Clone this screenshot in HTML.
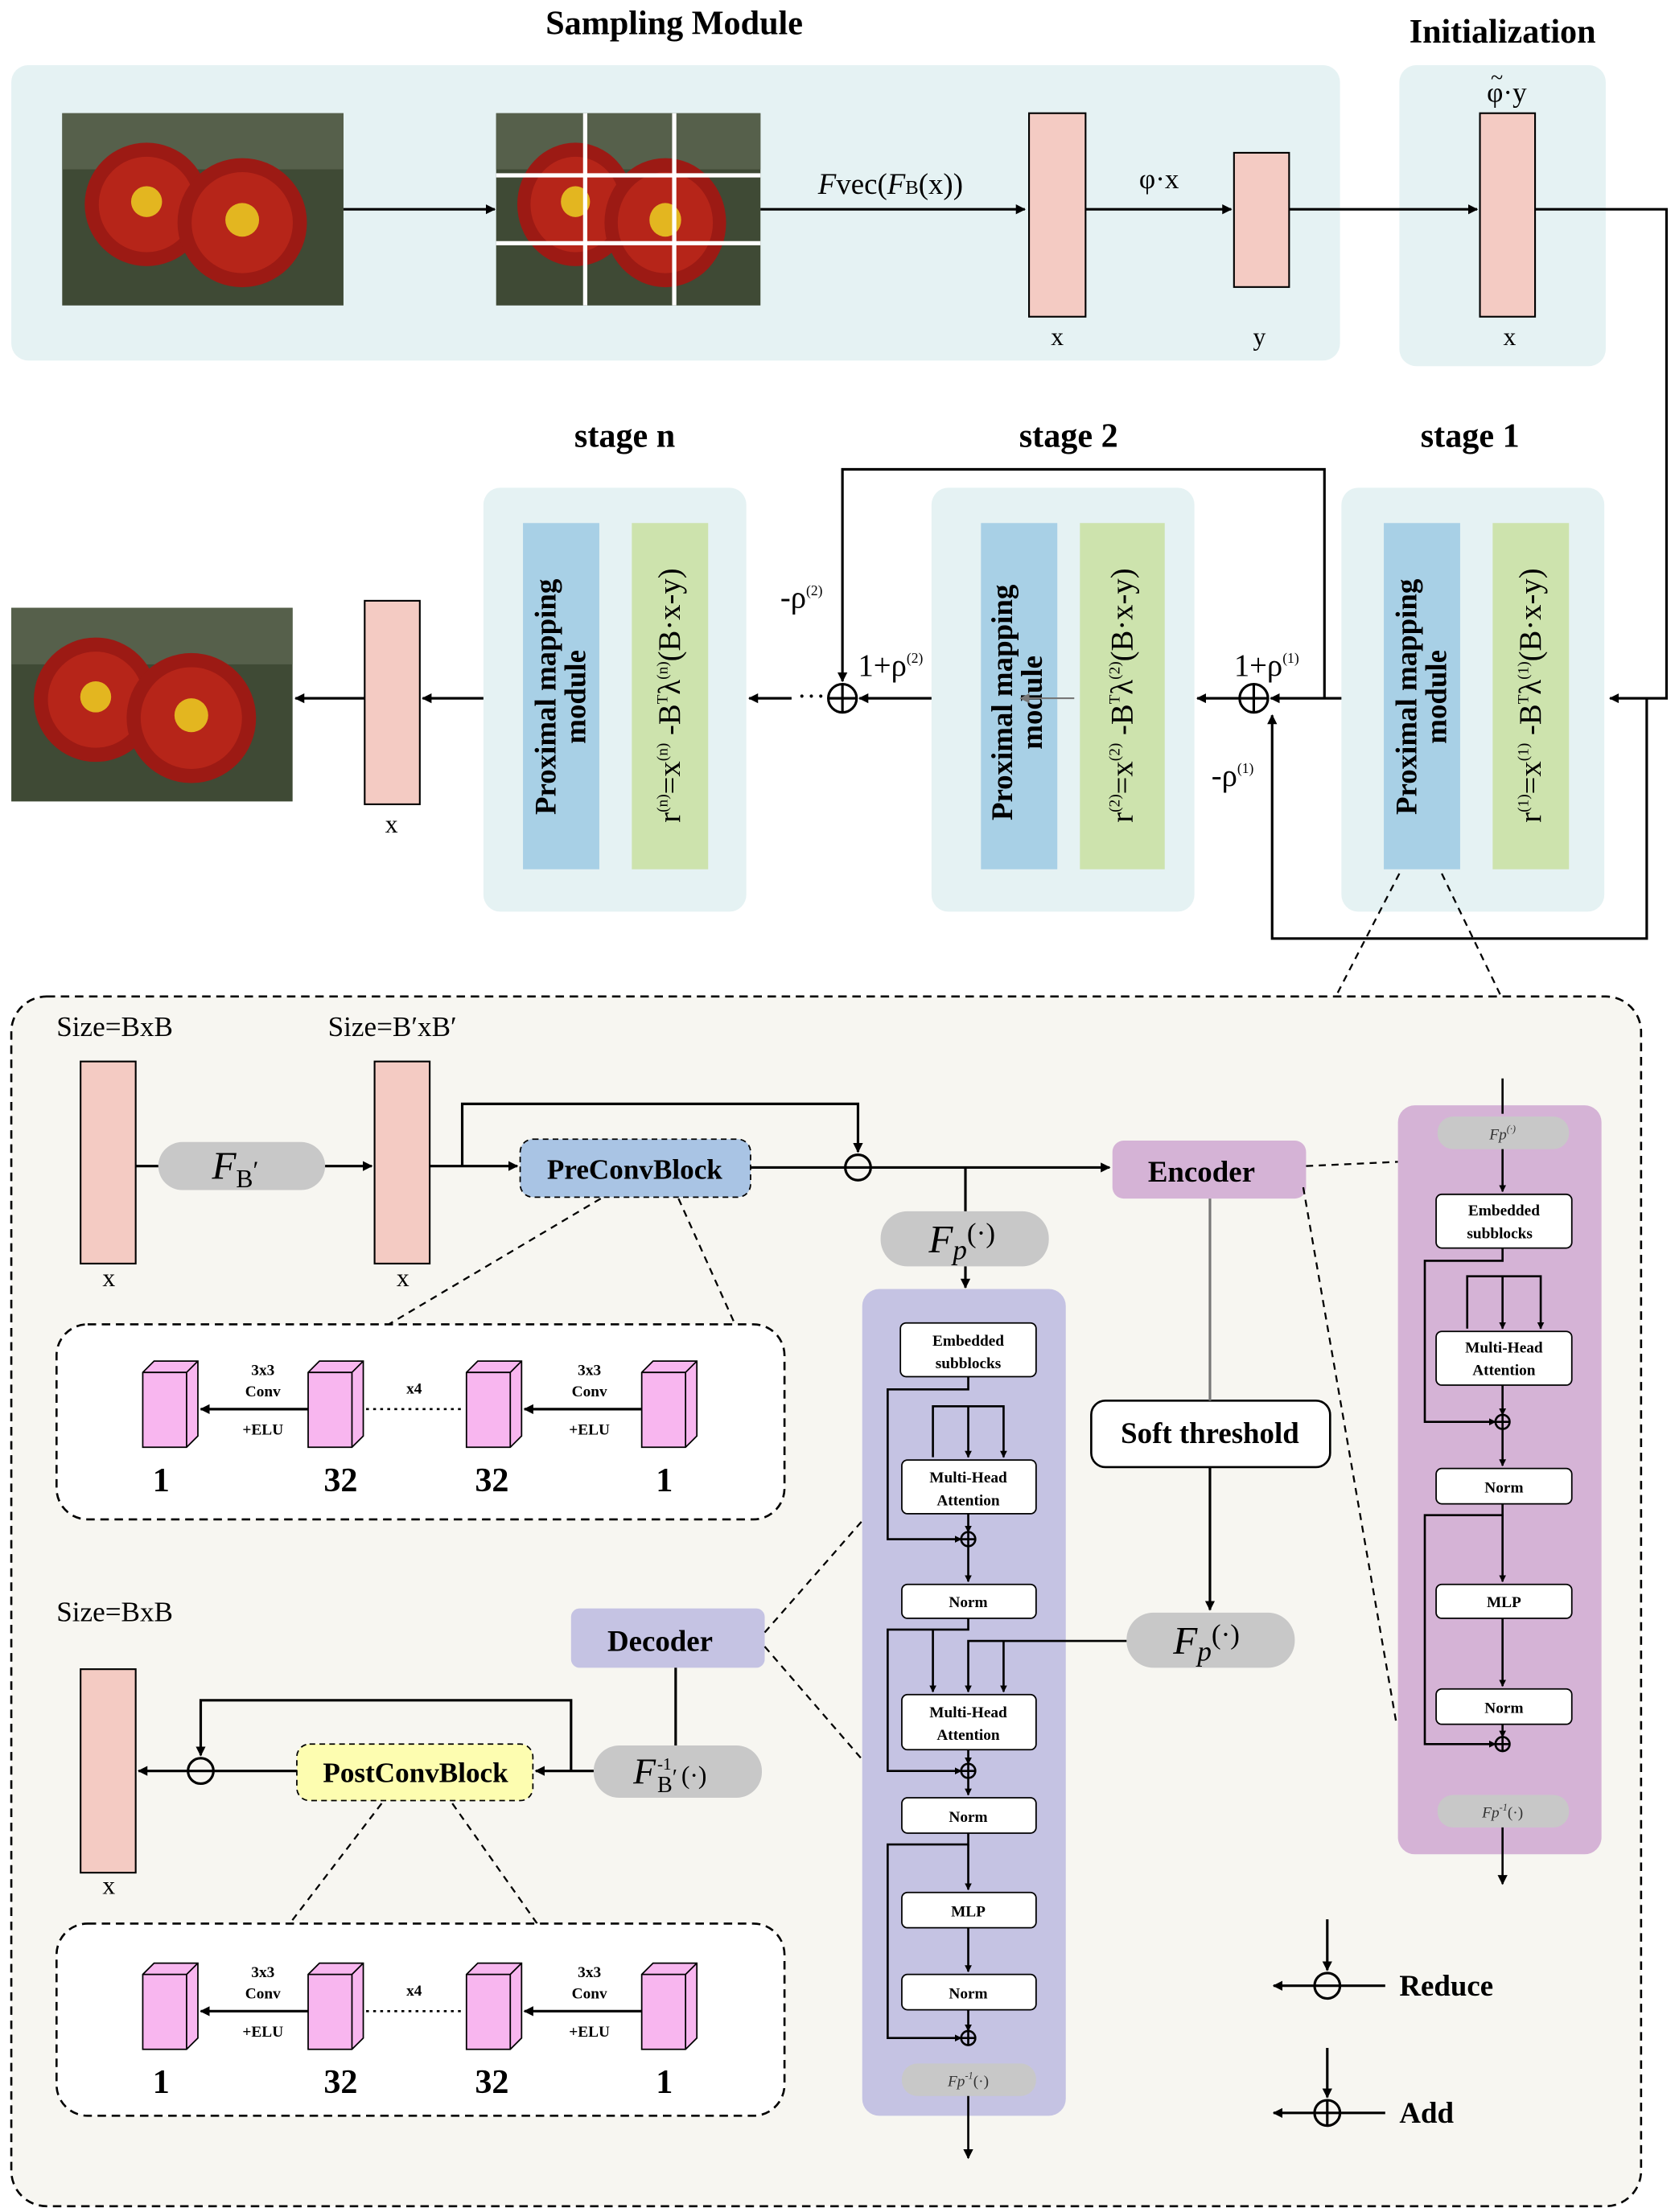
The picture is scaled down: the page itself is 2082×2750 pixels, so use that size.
<!DOCTYPE html>
<html><head><meta charset="utf-8"><style>
html,body{margin:0;padding:0;background:#fff}
svg{display:block}
text{font-family:"Liberation Serif",serif}
</style></head><body>
<svg width="2082" height="2750" viewBox="0 0 1185 1565" xmlns="http://www.w3.org/2000/svg">
<defs>
<marker id="a" viewBox="0 0 10 10" refX="9" refY="5" markerWidth="7" markerHeight="7" orient="auto-start-reverse" markerUnits="userSpaceOnUse"><path d="M0,0 L10,5 L0,10 z" fill="#000"/></marker>
<marker id="s" viewBox="0 0 10 10" refX="9" refY="5" markerWidth="5" markerHeight="5" orient="auto" markerUnits="userSpaceOnUse"><path d="M0,0 L10,5 L0,10 z" fill="#000"/></marker>
<marker id="g" viewBox="0 0 10 10" refX="9" refY="5" markerWidth="7" markerHeight="7" orient="auto" markerUnits="userSpaceOnUse"><path d="M0,0 L10,5 L0,10 z" fill="#777"/></marker>
<g id="flower">
<rect width="200" height="137" fill="#3f4a35"/>
<rect x="0" y="0" width="200" height="40" fill="#56604b"/>
<circle cx="60" cy="65" r="44" fill="#9c1a14"/><circle cx="60" cy="65" r="34" fill="#b62519"/><circle cx="60" cy="63" r="11" fill="#e3b620"/>
<circle cx="128" cy="78" r="46" fill="#9c1a14"/><circle cx="128" cy="78" r="36" fill="#b62519"/><circle cx="128" cy="76" r="12" fill="#e3b620"/>
</g>
<g id="cube"><path d="M0,8 L8,0 L39,0 L39,53 L31,61 L0,61 z" fill="#f8b6ef" stroke="#000" stroke-width="1"/><path d="M0,8 L31,8 L31,61 M31,8 L39,0" fill="none" stroke="#000" stroke-width="1"/></g>
</defs>

<text x="477" y="24" font-size="24" font-weight="bold" text-anchor="middle">Sampling Module</text>
<text x="1063" y="30" font-size="24" font-weight="bold" text-anchor="middle">Initialization</text>
<rect x="8" y="46" width="940" height="209" rx="12" fill="#e5f2f3"/>
<rect x="990" y="46" width="146" height="213" rx="12" fill="#e5f2f3"/>
<use href="#flower" transform="translate(44,80) scale(0.995,0.993)"/>
<use href="#flower" transform="translate(351,80) scale(0.935,0.993)"/>
<g stroke="#fff" stroke-width="3"><line x1="414" y1="80" x2="414" y2="216"/><line x1="477" y1="80" x2="477" y2="216"/><line x1="351" y1="124" x2="538" y2="124"/><line x1="351" y1="172" x2="538" y2="172"/></g>
<g stroke="#000" stroke-width="1.8" fill="none" marker-end="url(#a)">
<line x1="243" y1="148" x2="350" y2="148"/><line x1="538" y1="148" x2="725" y2="148"/>
<line x1="768" y1="148" x2="871" y2="148"/><line x1="912" y1="148" x2="1045" y2="148"/>
<polyline points="1086,148 1179,148 1179,494 1139,494"/>
</g>
<text x="630" y="137" font-size="21" text-anchor="middle"><tspan font-style="italic">F</tspan>vec(<tspan font-style="italic">F</tspan><tspan font-size="14">B</tspan>(x))</text>
<text x="820" y="133" font-size="20" text-anchor="middle">φ·x</text>
<g fill="#f4cbc3" stroke="#000" stroke-width="1.2">
<rect x="728" y="80" width="40" height="144"/><rect x="873" y="108" width="39" height="95"/><rect x="1047" y="80" width="39" height="144"/>
<rect x="258" y="425" width="39" height="144"/>
</g>
<g font-size="18" text-anchor="middle"><text x="748" y="244">x</text><text x="891" y="244">y</text><text x="1068" y="244">x</text><text x="277" y="589">x</text></g>
<text x="1066" y="72" font-size="20" text-anchor="middle">φ·y</text><text x="1059" y="60" font-size="16" text-anchor="middle">~</text>

<g font-size="24" font-weight="bold" text-anchor="middle"><text x="442" y="316">stage n</text><text x="756" y="316">stage 2</text><text x="1040" y="316">stage 1</text></g>
<g fill="#e5f2f3"><rect x="342" y="345" width="186" height="300" rx="12"/><rect x="659" y="345" width="186" height="300" rx="12"/><rect x="949" y="345" width="186" height="300" rx="12"/></g>
<g fill="#a8d0e6"><rect x="370" y="370" width="54" height="245"/><rect x="694" y="370" width="54" height="245"/><rect x="979" y="370" width="54" height="245"/></g>
<g fill="#cde3ad"><rect x="447" y="370" width="54" height="245"/><rect x="764" y="370" width="60" height="245"/><rect x="1056" y="370" width="54" height="245"/></g>
<g font-size="21" font-weight="bold" text-anchor="middle">
<text transform="translate(393,493) rotate(-90)">Proximal mapping</text><text transform="translate(414,493) rotate(-90)">module</text>
<text transform="translate(716,497) rotate(-90)">Proximal mapping</text><text transform="translate(737,497) rotate(-90)">module</text>
<text transform="translate(1002,493) rotate(-90)">Proximal mapping</text><text transform="translate(1023,493) rotate(-90)">module</text>
</g>
<g font-size="22" text-anchor="middle">
<text transform="translate(481,492) rotate(-90)">r<tspan font-size="11" dy="-9">(n)</tspan><tspan dy="9">=x</tspan><tspan font-size="11" dy="-9">(n)</tspan><tspan dy="9"> -B</tspan><tspan font-size="11" dy="-9">T</tspan><tspan dy="9">λ</tspan><tspan font-size="11" dy="-9">(n)</tspan><tspan dy="9">(B·x-y)</tspan></text>
<text transform="translate(801,492) rotate(-90)">r<tspan font-size="11" dy="-9">(2)</tspan><tspan dy="9">=x</tspan><tspan font-size="11" dy="-9">(2)</tspan><tspan dy="9"> -B</tspan><tspan font-size="11" dy="-9">T</tspan><tspan dy="9">λ</tspan><tspan font-size="11" dy="-9">(2)</tspan><tspan dy="9">(B·x-y)</tspan></text>
<text transform="translate(1090,492) rotate(-90)">r<tspan font-size="11" dy="-9">(1)</tspan><tspan dy="9">=x</tspan><tspan font-size="11" dy="-9">(1)</tspan><tspan dy="9"> -B</tspan><tspan font-size="11" dy="-9">T</tspan><tspan dy="9">λ</tspan><tspan font-size="11" dy="-9">(1)</tspan><tspan dy="9">(B·x-y)</tspan></text>
</g>
<line x1="760" y1="494" x2="722" y2="494" stroke="#777" stroke-width="1.2" marker-end="url(#g)"/>
<g stroke="#000" stroke-width="1.8" fill="none">
<line x1="949" y1="494" x2="899" y2="494" marker-end="url(#a)"/>
<line x1="877" y1="494" x2="847" y2="494" marker-end="url(#a)"/>
<polyline points="937,494 937,332 596,332 596,482" marker-end="url(#a)"/>
<polyline points="1165,494 1165,664 900,664 900,506" marker-end="url(#a)"/>
<line x1="659" y1="494" x2="608" y2="494" marker-end="url(#a)"/>
<line x1="560" y1="494" x2="530" y2="494" marker-end="url(#a)"/>
<line x1="342" y1="494" x2="299" y2="494" marker-end="url(#a)"/>
<line x1="258" y1="494" x2="209" y2="494" marker-end="url(#a)"/>
<circle cx="887" cy="494" r="10"/><line x1="877" y1="494" x2="897" y2="494"/><line x1="887" y1="484" x2="887" y2="504"/>
<circle cx="596" cy="494" r="10"/><line x1="586" y1="494" x2="606" y2="494"/><line x1="596" y1="484" x2="596" y2="504"/>
</g>
<text x="564" y="499" font-size="20">···</text>
<g font-size="22"><text x="873" y="478">1+ρ<tspan font-size="10" dy="-9">(1)</tspan></text><text x="857" y="556">-ρ<tspan font-size="10" dy="-9">(1)</tspan></text>
<text x="607" y="478">1+ρ<tspan font-size="10" dy="-9">(2)</tspan></text><text x="552" y="430">-ρ<tspan font-size="10" dy="-9">(2)</tspan></text></g>
<use href="#flower" transform="translate(8,430) scale(0.995,1)"/>
<g stroke="#000" stroke-width="1.3" stroke-dasharray="5,4"><line x1="990" y1="618" x2="945" y2="705"/><line x1="1020" y1="618" x2="1062" y2="705"/></g>

<rect x="8" y="705" width="1153" height="856" rx="25" fill="#f7f6f1" stroke="#000" stroke-width="1.5" stroke-dasharray="6,4"/>
<g fill="#f4cbc3" stroke="#000" stroke-width="1.2">
<rect x="57" y="751" width="39" height="143"/><rect x="265" y="751" width="39" height="143"/><rect x="57" y="1181" width="39" height="144"/>
</g>
<g font-size="18" text-anchor="middle"><text x="77" y="910">x</text><text x="285" y="910">x</text><text x="77" y="1340">x</text></g>
<g font-size="20"><text x="40" y="733">Size=BxB</text><text x="232" y="733">Size=B′xB′</text><text x="40" y="1147">Size=BxB</text></g>
<g fill="#c8c8c8"><rect x="112" y="808" width="118" height="34" rx="17"/><rect x="623" y="857" width="119" height="39" rx="19"/><rect x="797" y="1141" width="119" height="39" rx="19"/><rect x="420" y="1235" width="119" height="37" rx="18"/></g>
<text x="150" y="834" font-size="28" font-style="italic">F</text><text x="167" y="840" font-size="18">B<tspan dy="-6">′</tspan></text>
<text x="657" y="886" font-size="28" font-style="italic">F<tspan font-size="20" dy="5">p</tspan><tspan font-style="normal" font-size="20" dy="-12">(·)</tspan></text>
<text x="830" y="1170" font-size="28" font-style="italic">F<tspan font-size="20" dy="5">p</tspan><tspan font-style="normal" font-size="20" dy="-12">(·)</tspan></text>
<text x="448" y="1262" font-size="26" font-style="italic">F</text><text x="465" y="1268" font-size="16">B<tspan dy="-5">′</tspan></text><text x="465" y="1252" font-size="12">-1</text><text x="482" y="1262" font-size="18">(·)</text>

<rect x="368" y="806" width="163" height="41" rx="9" fill="#a9c4e4" stroke="#000" stroke-dasharray="4,3"/>
<text x="449" y="834" font-size="20" font-weight="bold" text-anchor="middle">PreConvBlock</text>
<rect x="787" y="807" width="137" height="41" rx="8" fill="#d5b3d6"/>
<text x="850" y="836" font-size="21" font-weight="bold" text-anchor="middle">Encoder</text>
<rect x="404" y="1138" width="137" height="42" rx="6" fill="#c5c3e3"/>
<text x="467" y="1168" font-size="21" font-weight="bold" text-anchor="middle">Decoder</text>
<rect x="772" y="991" width="169" height="47" rx="10" fill="#fff" stroke="#000" stroke-width="1.5"/>
<text x="856" y="1021" font-size="21" font-weight="bold" text-anchor="middle">Soft threshold</text>
<rect x="210" y="1234" width="167" height="40" rx="9" fill="#fdfdb0" stroke="#000" stroke-dasharray="4,3"/>
<text x="294" y="1261" font-size="20" font-weight="bold" text-anchor="middle">PostConvBlock</text>

<g stroke="#000" stroke-width="1.8" fill="none">
<line x1="96" y1="825" x2="112" y2="825"/><line x1="230" y1="825" x2="263" y2="825" marker-end="url(#a)"/>
<line x1="304" y1="825" x2="366" y2="825" marker-end="url(#a)"/>
<polyline points="327,825 327,781 607,781 607,815" marker-end="url(#a)"/>
<line x1="531" y1="826" x2="598" y2="826"/><line x1="616" y1="826" x2="785" y2="826" marker-end="url(#a)"/>
<line x1="683" y1="826" x2="683" y2="857"/><line x1="683" y1="896" x2="683" y2="911" marker-end="url(#a)"/>
<circle cx="607" cy="826" r="9"/><line x1="598" y1="826" x2="616" y2="826"/>
<line x1="856" y1="1038" x2="856" y2="1139" marker-end="url(#a)"/>
<line x1="478" y1="1180" x2="478" y2="1235"/>
<line x1="420" y1="1253" x2="379" y2="1253" marker-end="url(#a)"/>
<polyline points="404,1253 404,1203 142,1203 142,1242" marker-end="url(#a)"/>
<line x1="210" y1="1253" x2="151" y2="1253"/><line x1="133" y1="1253" x2="98" y2="1253" marker-end="url(#a)"/>
<circle cx="142" cy="1253" r="9"/><line x1="133" y1="1253" x2="151" y2="1253"/>
</g>
<line x1="856" y1="848" x2="856" y2="991" stroke="#777" stroke-width="1.8"/>
<g stroke="#000" stroke-width="1.3" stroke-dasharray="5,4" fill="none">
<line x1="425" y1="848" x2="275" y2="937"/><line x1="480" y1="848" x2="520" y2="937"/>
<line x1="270" y1="1276" x2="205" y2="1361"/><line x1="320" y1="1276" x2="380" y2="1361"/>
<line x1="541" y1="1155" x2="610" y2="1076"/><line x1="541" y1="1165" x2="610" y2="1245"/>
<line x1="924" y1="825" x2="989" y2="822"/><line x1="922" y1="840" x2="988" y2="1220"/>
</g>

<rect x="40" y="937" width="515" height="138" rx="22" fill="#fff" stroke="#000" stroke-width="1.5" stroke-dasharray="6,4"/>
<rect x="40" y="1361" width="515" height="136" rx="22" fill="#fff" stroke="#000" stroke-width="1.5" stroke-dasharray="6,4"/>
<g id="convrow">
<use href="#cube" x="101" y="963"/><use href="#cube" x="218" y="963"/><use href="#cube" x="330" y="963"/><use href="#cube" x="454" y="963"/>
<g stroke="#000" stroke-width="1.8"><line x1="218" y1="997" x2="142" y2="997" marker-end="url(#a)"/><line x1="454" y1="997" x2="371" y2="997" marker-end="url(#a)"/></g>
<line x1="259" y1="997" x2="328" y2="997" stroke="#000" stroke-width="1.5" stroke-dasharray="2,3"/>
<g font-size="11" font-weight="bold" text-anchor="middle"><text x="186" y="973">3x3</text><text x="186" y="988">Conv</text><text x="186" y="1015">+ELU</text>
<text x="417" y="973">3x3</text><text x="417" y="988">Conv</text><text x="417" y="1015">+ELU</text><text x="293" y="986">x4</text></g>
<g font-size="24" font-weight="bold" text-anchor="middle"><text x="114" y="1055">1</text><text x="241" y="1055">32</text><text x="348" y="1055">32</text><text x="470" y="1055">1</text></g>
</g>
<use href="#convrow" y="426"/>

<rect x="610" y="912" width="144" height="585" rx="12" fill="#c5c3e3"/>
<rect x="989" y="782" width="144" height="530" rx="12" fill="#d5b3d6"/>
<g fill="#c8c8c8"><rect x="638" y="1460" width="95" height="23" rx="11"/><rect x="1017" y="790" width="93" height="23" rx="11"/><rect x="1017" y="1270" width="93" height="23" rx="11"/></g>
<g font-size="11" font-style="italic" fill="#333" text-anchor="middle"><text x="685" y="1476">Fp<tspan font-size="7" dy="-5">-1</tspan><tspan font-style="normal" dy="5">(·)</tspan></text><text x="1063" y="806">Fp<tspan font-size="7" dy="-5">(·)</tspan></text><text x="1063" y="1286">Fp<tspan font-size="7" dy="-5">-1</tspan><tspan font-style="normal" dy="5">(·)</tspan></text></g>

<g fill="#fff" stroke="#000" stroke-width="1">
<rect x="637" y="936" width="96" height="38" rx="4"/><rect x="638" y="1033" width="95" height="38" rx="4"/><rect x="638" y="1121" width="95" height="24" rx="4"/>
<rect x="638" y="1199" width="95" height="39" rx="4"/><rect x="638" y="1272" width="95" height="25" rx="4"/><rect x="638" y="1339" width="95" height="25" rx="4"/><rect x="638" y="1397" width="95" height="25" rx="4"/>
</g>
<g font-size="11" font-weight="bold" text-anchor="middle">
<text x="685" y="952">Embedded</text><text x="685" y="968">subblocks</text>
<text x="685" y="1049">Multi-Head</text><text x="685" y="1065">Attention</text>
<text x="685" y="1137">Norm</text>
<text x="685" y="1215">Multi-Head</text><text x="685" y="1231">Attention</text>
<text x="685" y="1289">Norm</text><text x="685" y="1356">MLP</text><text x="685" y="1414">Norm</text>
</g>
<g stroke="#000" stroke-width="1.5" fill="none">
<polyline points="685,974 685,983 628,983 628,1089 680,1089" marker-end="url(#s)"/>
<polyline points="660,1031 660,995 710,995 710,1031" marker-end="url(#s)"/><line x1="685" y1="995" x2="685" y2="1031" marker-end="url(#s)"/>
<line x1="685" y1="1071" x2="685" y2="1084" marker-end="url(#s)"/><line x1="685" y1="1094" x2="685" y2="1119" marker-end="url(#s)"/>
<polyline points="685,1145 685,1153 628,1153 628,1253 680,1253" marker-end="url(#s)"/>
<polyline points="660,1153 660,1197" marker-end="url(#s)"/>
<polyline points="797,1161 685,1161 685,1197" marker-end="url(#s)"/><polyline points="710,1161 710,1197" marker-end="url(#s)"/>
<line x1="685" y1="1238" x2="685" y2="1248" marker-end="url(#s)"/><line x1="685" y1="1258" x2="685" y2="1270" marker-end="url(#s)"/>
<polyline points="685,1297 685,1305 628,1305 628,1442 680,1442" marker-end="url(#s)"/>
<line x1="685" y1="1305" x2="685" y2="1337" marker-end="url(#s)"/><line x1="685" y1="1364" x2="685" y2="1395" marker-end="url(#s)"/>
<line x1="685" y1="1422" x2="685" y2="1437" marker-end="url(#s)"/>
<line x1="685" y1="1483" x2="685" y2="1527" marker-end="url(#a)"/>
<circle cx="685" cy="1089" r="5"/><line x1="680" y1="1089" x2="690" y2="1089"/><line x1="685" y1="1084" x2="685" y2="1094"/>
<circle cx="685" cy="1253" r="5"/><line x1="680" y1="1253" x2="690" y2="1253"/><line x1="685" y1="1248" x2="685" y2="1258"/>
<circle cx="685" cy="1442" r="5"/><line x1="680" y1="1442" x2="690" y2="1442"/><line x1="685" y1="1437" x2="685" y2="1447"/>
</g>

<g fill="#fff" stroke="#000" stroke-width="1">
<rect x="1016" y="845" width="96" height="38" rx="4"/><rect x="1016" y="942" width="96" height="38" rx="4"/><rect x="1016" y="1039" width="96" height="25" rx="4"/>
<rect x="1016" y="1121" width="96" height="24" rx="4"/><rect x="1016" y="1195" width="96" height="25" rx="4"/>
</g>
<g font-size="11" font-weight="bold" text-anchor="middle">
<text x="1064" y="860">Embedded</text><text x="1061" y="876">subblocks</text>
<text x="1064" y="957">Multi-Head</text><text x="1064" y="973">Attention</text>
<text x="1064" y="1056">Norm</text><text x="1064" y="1137">MLP</text><text x="1064" y="1212">Norm</text>
</g>
<g stroke="#000" stroke-width="1.5" fill="none">
<line x1="1063" y1="763" x2="1063" y2="788"/>
<line x1="1063" y1="813" x2="1063" y2="843" marker-end="url(#s)"/>
<polyline points="1063,883 1063,892 1008,892 1008,1006 1058,1006" marker-end="url(#s)"/>
<polyline points="1038,940 1038,903 1090,903 1090,940" marker-end="url(#s)"/><line x1="1063" y1="903" x2="1063" y2="940" marker-end="url(#s)"/>
<line x1="1063" y1="980" x2="1063" y2="1001" marker-end="url(#s)"/><line x1="1063" y1="1011" x2="1063" y2="1037" marker-end="url(#s)"/>
<polyline points="1063,1064 1063,1072 1008,1072 1008,1234 1058,1234" marker-end="url(#s)"/>
<line x1="1063" y1="1072" x2="1063" y2="1119" marker-end="url(#s)"/><line x1="1063" y1="1145" x2="1063" y2="1193" marker-end="url(#s)"/>
<line x1="1063" y1="1220" x2="1063" y2="1229" marker-end="url(#s)"/>
<line x1="1063" y1="1293" x2="1063" y2="1333" marker-end="url(#a)"/>
<circle cx="1063" cy="1006" r="5"/><line x1="1058" y1="1006" x2="1068" y2="1006"/><line x1="1063" y1="1001" x2="1063" y2="1011"/>
<circle cx="1063" cy="1234" r="5"/><line x1="1058" y1="1234" x2="1068" y2="1234"/><line x1="1063" y1="1229" x2="1063" y2="1239"/>
</g>

<g stroke="#000" stroke-width="1.8" fill="none">
<line x1="939" y1="1358" x2="939" y2="1394" marker-end="url(#a)"/>
<line x1="980" y1="1405" x2="901" y2="1405" marker-end="url(#a)"/>
<circle cx="939" cy="1405" r="9" fill="#f7f6f1"/><line x1="930" y1="1405" x2="948" y2="1405"/>
<line x1="939" y1="1449" x2="939" y2="1484" marker-end="url(#a)"/>
<line x1="980" y1="1495" x2="901" y2="1495" marker-end="url(#a)"/>
<circle cx="939" cy="1495" r="9" fill="#f7f6f1"/><line x1="930" y1="1495" x2="948" y2="1495"/><line x1="939" y1="1486" x2="939" y2="1504"/>
</g>
<g font-size="21" font-weight="bold"><text x="990" y="1412">Reduce</text><text x="990" y="1502">Add</text></g>
</svg>
</body></html>
